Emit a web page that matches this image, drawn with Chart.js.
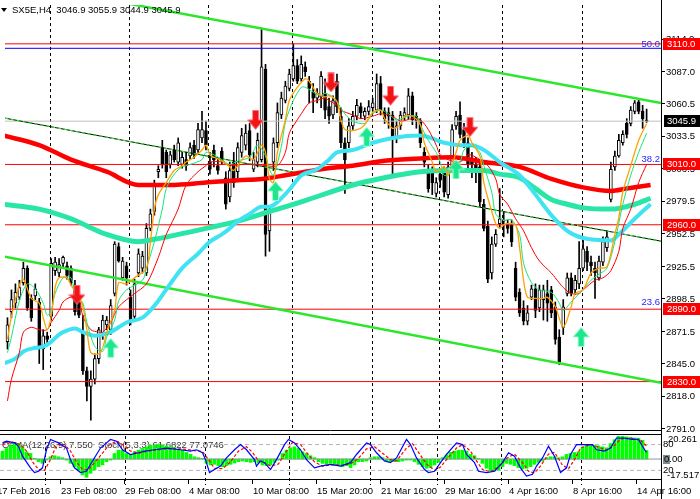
<!DOCTYPE html>
<html>
<head>
<meta charset="utf-8">
<script src="https://cdn.jsdelivr.net/npm/chart.js@4.4.0/dist/chart.umd.min.js"></script>
<style>
  body { margin: 0; background: #fff; overflow: hidden; }
  #wrap { position: relative; width: 700px; height: 499px; }
  canvas { position: absolute; left: 0; }
  #priceChart { top: 0; }
  #oscChart { top: 434px; }
</style>
</head>
<body>
<div id="wrap">
  <canvas id="priceChart" width="700" height="434"></canvas>
  <canvas id="oscChart" width="700" height="65"></canvas>
</div>
<script>
// SX5E H4 candles, 17 Feb - 14 Apr 2016
const opens = [2863,2888,2895,2900,2912,2924,2899,2901,2896,2857,2868,2884,2922,2920,2928,2926,2924,2910,2896,2871,
  2839,2826,2832,2849,2869,2877,2873,2903,2942,2916,2926,2900,2884,2920,2924,2920,2957,2971,3004,3024,
  3020,3010,3022,3012,3010,3014,3017,3026,3022,3032,3038,3012,3022,3009,3021,2999,2983,3012,3004,3020,
  3026,3038,3006,3012,3014,3089,2955,3012,3028,3051,3063,3073,3081,3092,3081,3091,3079,3070,3065,3066,
  3069,3058,3051,3079,3050,3028,3028,3042,3050,3058,3050,3054,3057,3055,3077,3054,3053,3051,3032,3042,
  3050,3051,3067,3050,3046,3020,3006,3004,2986,3002,3004,2985,3008,3042,3051,3039,3028,3013,3010,3008,
  2977,2959,2920,2944,2961,2963,2961,2960,2924,2904,2891,2880,2900,2907,2891,2898,2903,2906,2892,2867,
  2875,2903,2916,2906,2911,2924,2938,2929,2924,2916,2929,2941,2981,3008,3017,3028,3044,3044,3054,3062,
  3054,3046.9];
const highs = [2883,2906,2911,2914,2929,2926,2902,2911,2899,2873,2871,2932,2933,2932,2934,2929,2926,2914,2899,2885,
  2842,2839,2853,2875,2885,2884,2898,2946,2945,2933,2929,2906,2915,2940,2938,2961,2973,2997,3009,3030,
  3022,3021,3026,3032,3020,3020,3028,3030,3044,3054,3046,3020,3026,3016,3024,3004,3012,3020,3028,3040,
  3043,3044,3020,3036,3123,3093,2975,3032,3061,3070,3079,3089,3110,3097,3100,3095,3083,3077,3073,3087,
  3081,3065,3067,3085,3057,3032,3048,3054,3064,3061,3057,3063,3065,3085,3083,3057,3057,3054,3046,3054,
  3057,3073,3070,3053,3048,3024,3010,3008,2999,3005,3008,3012,3043,3054,3062,3044,3032,3020,3016,3012,
  2981,2963,2950,2956,2990,2971,2964,2964,2929,2907,2897,2893,2910,2911,2910,2910,2914,2909,2896,2873,
  2898,2920,2920,2918,2946,2948,2942,2934,2929,2934,2950,2955,3012,3021,3035,3038,3048,3058,3063,3064,
  3059,3055.9];
const lows = [2857,2883,2891,2898,2910,2889,2880,2898,2845,2840,2861,2881,2918,2917,2924,2915,2910,2885,2883,2836,
  2814,2798,2828,2845,2865,2873,2869,2901,2929,2914,2910,2877,2881,2917,2920,2918,2955,2968,2999,3007,
  2999,3007,3012,3009,3007,3005,3014,3015,3020,3028,3022,3002,3008,3002,3010,2973,2979,2991,2999,3016,
  3022,3013,3004,3008,3012,2934,2938,3005,3024,3048,3061,3071,3079,3077,3079,3083,3061,3053,3061,3057,
  3048,3044,3048,3053,3024,2986,3024,3039,3047,3048,3047,3051,3054,3053,3051,3044,3040,3002,3028,3039,
  3047,3048,3043,3040,3024,3008,2987,2985,2983,2991,2983,2982,3004,3039,3032,3024,3004,2999,2995,2975,
  2955,2912,2915,2942,2958,2950,2953,2942,2897,2884,2877,2877,2898,2883,2888,2881,2880,2883,2861,2844,
  2869,2901,2901,2902,2907,2922,2922,2918,2899,2914,2926,2938,2979,3005,3016,3026,3032,3042,3052,3052,
  3040,3044.9];
const closes = [2877,2898,2904,2908,2924,2891,2883,2907,2858,2868,2865,2928,2929,2927,2933,2918,2912,2888,2885,2839,
  2826,2832,2849,2873,2881,2881,2893,2944,2930,2930,2916,2880,2911,2936,2934,2957,2969,2993,3006,3010,
  3004,3018,3014,3028,3016,3009,3024,3018,3039,3039,3026,3006,3014,3005,3013,2977,3005,2995,3024,3034,
  3036,3018,3014,3030,3091,2952,2971,3028,3053,3065,3075,3085,3092,3079,3093,3087,3073,3065,3069,3083,
  3055,3050,3063,3058,3028,3014,3042,3050,3059,3053,3054,3058,3061,3077,3055,3048,3050,3032,3042,3051,
  3053,3067,3047,3046,3028,3012,2990,2995,2995,2997,2987,3008,3039,3050,3035,3028,3010,3010,3004,2979,
  2957,2915,2944,2952,2965,2964,2957,2946,2900,2887,2880,2887,2907,2889,2906,2906,2895,2887,2865,2846,
  2892,2916,2903,2914,2924,2940,2929,2926,2920,2930,2946,2950,3006,3017,3030,3035,3035,3055,3061,3054,
  3048,3045.9];

// moving averages: [bar index, price]
const fastMA = [[0,2865],[1,2884],[3,2910],[4,2915],[6,2899],[8,2895],[9,2883],[10,2873],[11,2884],[12,2908],[13,2916],[15,2916],
  [16,2910],[18,2900],[19,2892],[20,2873],[21,2854],[23,2853],[24,2858],[25,2871],[27,2889],[28,2912],[30,2911],[32,2916],
  [35,2924],[36,2946],[37,2973],[38,2985],[40,2995],[42,3005],[44,3009],[45,3012],[47,3016],[49,3022],[50,3026],[51,3018],
  [52,3016],[54,3013],[56,3008],[57,3005],[60,3017],[62,3014],[64,3026],[65,3020],[66,2998],[67,2995],[68,3020],[70,3047],
  [71,3063],[73,3074],[75,3081],[76,3079],[78,3069],[80,3066],[81,3067],[83,3062],[84,3047],[85,3039],[87,3038],[89,3040],
  [90,3043],[92,3053],[94,3055],[95,3048],[97,3040],[99,3043],[100,3050],[102,3050],[104,3043],[105,3028],[107,3012],[108,3004],
  [110,3008],[111,3001],[113,3020],[114,3030],[116,3034],[117,3028],[119,3017],[120,2995],[122,2971],[123,2961],[124,2957],
  [125,2960],[126,2961],[128,2960],[129,2941],[130,2914],[131,2900],[133,2899],[135,2899],[136,2900],[138,2892],[140,2875],
  [142,2892],[143,2903],[145,2906],[147,2920],[149,2924],[151,2925],[153,2952],[154,2966],[155,2987],[157,3009],[159,3030],
  [161,3044]];
const midMA = [[0,2854],[1,2867],[3,2897],[5,2911],[7,2907],[9,2895],[10,2885],[11,2889],[12,2903],[14,2916],[16,2916],[17,2903],
  [19,2895],[20,2879],[22,2859],[24,2855],[25,2867],[27,2881],[28,2897],[30,2906],[34,2914],[35,2924],[37,2946],[39,2973],
  [40,2990],[42,3002],[44,3008],[46,3010],[49,3014],[50,3020],[52,3018],[54,3014],[56,3010],[58,3013],[61,3016],[63,3026],
  [65,3017],[66,3006],[67,3001],[69,3025],[70,3045],[72,3063],[74,3074],[75,3074],[77,3070],[79,3067],[80,3069],[82,3066],
  [83,3062],[85,3052],[87,3046],[90,3044],[92,3052],[94,3055],[96,3052],[98,3047],[101,3050],[103,3050],[104,3043],[106,3030],
  [108,3020],[109,3012],[110,3001],[112,3004],[114,3012],[115,3022],[117,3025],[119,3020],[120,3009],[122,2987],[123,2969],
  [125,2964],[127,2964],[129,2952],[130,2928],[132,2912],[134,2906],[137,2904],[139,2895],[140,2889],[142,2896],[144,2903],
  [147,2914],[149,2919],[151,2924],[153,2946],[155,2977],[157,3001],[159,3020],[161,3036]];
const slowMA = [[0,2814],[1,2832],[3,2854],[4,2871],[6,2875],[8,2873],[10,2873],[11,2879],[13,2889],[14,2896],[16,2900],[18,2898],
  [19,2884],[21,2873],[23,2871],[24,2871],[26,2879],[28,2892],[32,2903],[35,2911],[38,2933],[40,2952],[43,2973],[45,2993],
  [48,3004],[50,3009],[51,3012],[54,3012],[56,3009],[59,3010],[63,3010],[65,3009],[68,3009],[70,3020],[71,3036],[73,3047],
  [74,3052],[76,3061],[78,3063],[80,3065],[81,3063],[83,3059],[84,3055],[87,3051],[89,3048],[92,3050],[94,3052],[97,3050],
  [99,3046],[102,3048],[104,3047],[106,3039],[108,3026],[109,3018],[111,3014],[114,3012],[116,3018],[118,3016],[121,3009],
  [123,2998],[124,2985],[126,2977],[128,2965],[130,2955],[132,2941],[134,2930],[137,2920],[138,2916],[140,2908],[142,2903],
  [144,2903],[145,2906],[148,2914],[150,2916],[152,2922],[154,2938],[155,2957],[157,2973],[159,2995],[161,3010]];
const redMA = [[-1,3034],[8,3026],[16,3014],[25,3004],[33,2993],[41,2993],[50,2995],[58,2997],[64,2998],[70,3001],[79,3006],
  [87,3009],[95,3013],[104,3015],[112,3016],[120,3012],[129,3008],[137,2998],[145,2991],[152,2988],[156,2990],[162,2993]];
const greenMA = [[-1,2977],[8,2973],[16,2965],[25,2952],[33,2946],[37,2948],[50,2957],[58,2963],[66,2971],[74,2979],[87,2993],
  [95,2999],[104,3004],[112,3005],[120,3005],[124,3002],[129,2999],[133,2990],[137,2981],[141,2977],[145,2974],[152,2973],
  [158,2977],[162,2982]];
const cyanMA = [[-1,2845],[2,2849],[4,2855],[7,2858],[9,2859],[11,2863],[13,2869],[14,2871],[17,2874],[19,2871],[22,2868],
  [24,2869],[26,2871],[28,2875],[30,2879],[34,2883],[36,2889],[38,2897],[41,2911],[44,2924],[48,2936],[51,2946],[54,2952],
  [56,2957],[58,2963],[61,2969],[64,2975],[66,2975],[69,2982],[71,2989],[74,3001],[78,3006],[81,3014],[83,3020],[87,3022],
  [92,3028],[97,3032],[104,3034],[110,3028],[114,3026],[117,3026],[120,3022],[124,3012],[129,3001],[133,2985],[137,2968],
  [141,2955],[145,2949],[152,2947],[154,2952],[158,2965],[162,2977]];

// trend lines and levels
const upperChannel = [[30,3143.6],[164.625,3061]];
const lowerChannel = [[-0.625,2933.6],[164.625,2829]];
const midChannel = [[-0.625,3048.4],[164.625,2946.4]];
const redLevels = [3110, 3010, 2960, 2890, 2830];
const fibValues = [3106.3, 3010.5, 2892];
const fibNames = ['50.0', '38.2', '23.6'];

// signal arrows: [bar index, price]
const sellArrows = [[17.5,2902],[62.5,3047],[81.5,3078],[96.5,3067],[116.5,3041]];
const buyArrows = [[26,2858],[67.5,2988],[90.5,3033],[113,3006],[144.5,2867]];

// OsMA histogram, one value per bar
const osma = [7.0,9.3,12.2,13.6,13.6,10.7,6.4,4.9,0.6,-2.3,-3.8,-0.9,2.0,2.9,2.0,1.2,-0.9,-3.8,-6.7,-9.6,
  -13.9,-16.0,-12.5,-9.6,-6.7,-5.2,-2.3,-0.9,4.9,7.8,7.8,4.9,4.1,6.4,7.8,9.3,10.7,12.2,12.2,12.8,
  12.2,11.6,10.7,9.9,8.7,7.8,5.8,4.1,2.0,1.2,0.6,-3.8,-5.2,-4.6,-5.8,-6.7,-5.8,-4.6,-3.5,-2.3,
  -1.7,-2.3,-2.9,-2.3,-3.5,-5.2,-5.8,-5.2,-2.9,-0.9,4.9,7.8,9.9,10.7,9.3,6.4,4.9,2.9,1.2,-2.3,
  -3.8,-4.6,-3.8,-5.2,-5.8,-6.7,-5.8,-7.5,-5.2,-2.3,-2.3,-1.7,1.2,2.0,2.0,1.2,-1.7,-2.3,-2.3,-2.3,
  -1.7,-0.9,-0.9,-2.3,-4.6,-6.7,-8.1,-7.5,-5.2,-2.9,1.2,3.5,5.8,7.0,7.8,7.8,7.0,4.1,2.9,0.6,
  -3.8,-8.1,-10.4,-10.4,-9.6,-6.7,-3.8,-4.6,-5.8,-7.5,-8.7,-8.1,-6.7,-4.6,-2.9,-1.7,1.2,2.0,2.0,1.2,
  2.0,4.1,4.9,5.8,6.4,10.7,12.2,12.8,12.2,11.6,10.7,9.9,13.6,17.0,20.0,20.261,19.5,19.0,18.6,18.3,
  16.5,7.55];
const stochMain = [[0,84],[1,88],[3,84],[4,76],[5,53],[7,26],[8,15],[9,18],[10,26],[11,68],[12,92],[14,84],[16,72],[17,45],
  [18,26],[19.5,15],[21,18],[22,34],[23.5,57],[24.5,72],[26,84],[27,92],[28.5,88],[30,68],[32,57],[34,61],[35.5,65],[38,68],
  [41,72],[44.5,68],[47,65],[48.5,68],[50,61],[50.75,45],[51.75,15],[53,22],[54.5,30],[56,49],[58,68],[59.5,80],[61,68],
  [63,45],[63.5,30],[64.5,42],[65.5,38],[67,22],[68.5,45],[70.5,80],[71.5,92],[73,84],[74.5,68],[76,45],[78,26],[79.5,30],
  [82,34],[84.5,30],[87,38],[88.5,57],[91,84],[92,80],[93.5,61],[95.5,42],[97,38],[98.5,49],[101,92],[102,80],[103.5,49],
  [105.5,22],[106.5,15],[108,18],[109.5,38],[111,57],[113.5,84],[115,80],[116,57],[118,38],[119,18],[121,15],[123,18],
  [125,38],[126.5,61],[128,53],[129.5,26],[131,7],[132.5,11],[133.5,30],[135,49],[136.5,76],[138,53],[139.5,15],[141,26],
  [142,57],[143.5,80],[145.5,80],[147.5,80],[148.5,68],[150.5,65],[152,72],[153.5,95],[155.5,95],[157.5,92],[159,92],
  [160,76],[161,61.7]];
const stochSignal = [[0,80],[2.5,86],[4.5,80],[6,65],[7.5,40],[9,22],[10.5,20],[12,45],[13.5,80],[15.5,80],[17,65],[18.5,40],
  [20,22],[21.5,22],[23,38],[25,60],[26.5,78],[28.5,88],[30,80],[32,65],[34,60],[37,66],[41,70],[45,70],[48,66],[50,64],
  [51.5,45],[53,25],[55,24],[57,40],[59,65],[61,75],[62.5,62],[64,42],[65.5,38],[67,30],[69,35],[71,65],[72.5,85],[74.5,80],
  [76,62],[78,40],[80,30],[82.5,33],[85,32],[87,35],[89,48],[91,70],[93,75],[95,60],[97,45],[98.5,42],[101,72],[102.5,82],
  [104,62],[106,35],[108,20],[109.5,28],[111,45],[113.5,72],[115,80],[117,65],[118.5,42],[120,22],[122,17],[124,28],
  [126,48],[128,58],[130,38],[131.5,18],[133,14],[134.5,30],[136.5,58],[138,62],[140,32],[141.5,24],[143,45],[144.5,72],
  [147,80],[149,74],[151,67],[153,78],[154.5,93],[157,95],[159.5,90],[161,77.1]];

// axes
const yTicks = [3114.0,3087.0,3060.5,3033.5,3006.5,2979.5,2952.5,2925.5,2898.5,2871.5,2845.0,2818.0,2791.0];
const gridIdx = [10.625,30.625,50.625,71.625,91.875,108.625,124.625,144.625];
const timeLabelIdx = [-1.625,14.375,30.375,46.375,62.375,78.375,94.375,110.375,126.375,142.375,158.375];
const timeLabels = ['17 Feb 2016','23 Feb 08:00','29 Feb 08:00','4 Mar 08:00','10 Mar 08:00','15 Mar 20:00',
  '21 Mar 16:00','29 Mar 16:00','4 Apr 16:00','8 Apr 16:00','14 Apr 16:00'];

const xMin = -0.625, xMax = 164.625;
const yMin = 2790.7, yMax = 3142.2;
const FONT = '9.5px "Liberation Sans", Arial, sans-serif';

function pts(pairs) {
  return pairs.map(p => ({ x: p[0], y: p[1] }));
}
function hline(v) {
  return [{ x: xMin, y: v }, { x: xMax, y: v }];
}
function lineSet(data, color, width, order, extra) {
  return Object.assign({
    type: 'line', data: data, borderColor: color, borderWidth: width,
    pointRadius: 0, fill: false, order: order, tension: 0
  }, extra || {});
}
function arrowImage(up, fill, edge) {
  const c = document.createElement('canvas');
  c.width = 17; c.height = 20;
  const g = c.getContext('2d');
  g.beginPath();
  if (up) {
    g.moveTo(8.5, 0.5); g.lineTo(16.5, 10); g.lineTo(11.5, 10); g.lineTo(11.5, 19.5);
    g.lineTo(5.5, 19.5); g.lineTo(5.5, 10); g.lineTo(0.5, 10);
  } else {
    g.moveTo(5.5, 0.5); g.lineTo(11.5, 0.5); g.lineTo(11.5, 10); g.lineTo(16.5, 10);
    g.lineTo(8.5, 19.5); g.lineTo(0.5, 10); g.lineTo(5.5, 10);
  }
  g.closePath();
  g.fillStyle = fill; g.fill();
  g.strokeStyle = edge; g.lineWidth = 1; g.stroke();
  return c;
}

// time axis is hidden; labels and separators are placed through it by plugins
function timeScale() {
  return { type: 'linear', min: xMin, max: xMax, offset: false, display: false };
}

// dashed period separators
const periodGrid = {
  id: 'periodGrid',
  beforeDatasetsDraw(chart) {
    const { ctx, chartArea, scales: { x } } = chart;
    ctx.save();
    ctx.strokeStyle = '#000';
    ctx.lineWidth = 1;
    ctx.setLineDash([3, 3]);
    ctx.beginPath();
    gridIdx.forEach(v => {
      const px = Math.round(x.getPixelForValue(v)) + 0.5;
      ctx.moveTo(px, chartArea.top);
      ctx.lineTo(px, chart.canvas.id === 'oscChart' ? chartArea.bottom + 6 : chartArea.bottom);
    });
    ctx.stroke();
    ctx.restore();
  }
};

const candleIdx = closes.map((c, i) => i);
const bullish = i => closes[i] >= opens[i];

const priceDecor = {
  id: 'priceDecor',
  afterDraw(chart) {
    const { ctx, chartArea, scales: { y } } = chart;
    const right = chartArea.right;
    ctx.save();
    ctx.font = FONT;
    ctx.textBaseline = 'middle';
    ctx.textAlign = 'left';
    ctx.fillStyle = '#000';
    yTicks.forEach(v => ctx.fillText(v.toFixed(1), right + 5, y.getPixelForValue(v) + 0.5));

    ctx.textAlign = 'right';
    ctx.textBaseline = 'alphabetic';
    ctx.fillStyle = '#2424ff';
    fibValues.forEach((v, i) => ctx.fillText(fibNames[i], right - 1, y.getPixelForValue(v) - 1.5));

    ctx.textAlign = 'left';
    ctx.textBaseline = 'middle';
    redLevels.forEach(v => {
      const py = Math.round(y.getPixelForValue(v));
      ctx.fillStyle = '#ff0000';
      ctx.fillRect(right + 2, py - 6, 37, 12);
      ctx.fillStyle = '#fff';
      ctx.fillText(v.toFixed(1), right + 6, py + 0.5);
    });
    const last = closes[closes.length - 1];
    const cy = Math.round(y.getPixelForValue(last));
    ctx.fillStyle = '#000';
    ctx.fillRect(right + 3, cy - 6, 36, 12);
    ctx.fillStyle = '#fff';
    ctx.fillText(last.toFixed(1), right + 6, cy + 0.5);

    // header
    const n = closes.length - 1;
    ctx.fillStyle = '#000';
    ctx.beginPath();
    ctx.moveTo(1, 8); ctx.lineTo(7, 8); ctx.lineTo(4, 12); ctx.closePath(); ctx.fill();
    ctx.textBaseline = 'alphabetic';
    ctx.fillText('SX5E,H4  ' + [opens[n], highs[n], lows[n], closes[n]].map(v => v.toFixed(1)).join(' '), 12, 13);

    // panel separator
    ctx.strokeStyle = '#000';
    ctx.lineWidth = 1;
    ctx.beginPath();
    ctx.moveTo(0, chartArea.bottom + 1.5); ctx.lineTo(right, chartArea.bottom + 1.5);
    ctx.moveTo(right + 0.5, 0); ctx.lineTo(right + 0.5, chart.height);
    ctx.stroke();
    ctx.restore();
  }
};

new Chart(document.getElementById('priceChart'), {
  type: 'bar',
  data: {
    datasets: [
      { type: 'bar', data: candleIdx.map(i => ({ x: i, y: [lows[i], highs[i]] })), backgroundColor: '#000',
        barThickness: 1, grouped: false, order: 20 },
      { type: 'bar', data: candleIdx.map(i => ({ x: i, y: [opens[i], closes[i]] })),
        backgroundColor: c => bullish(c.dataIndex) ? '#fff' : '#000', borderColor: '#000', borderWidth: 1,
        borderSkipped: false, barThickness: 3, grouped: false, order: 19 },
      ...redLevels.map(v => lineSet(hline(v), '#ff0000', 1, 15)),
      lineSet(hline(fibValues[0]), '#0000ff', 1, 15),
      lineSet(hline(closes[closes.length - 1]), '#c0c0c0', 1, 16),
      lineSet(pts(upperChannel), '#2be82b', 2.5, 14),
      lineSet(pts(lowerChannel), '#2be82b', 2.5, 14),
      lineSet(pts(midChannel), '#000', 1, 14),
      lineSet(pts(midChannel), '#2be82b', 1.2, 13, { borderDash: [3, 3] }),
      lineSet(pts(redMA), '#ff0000', 4.5, 12, { tension: 0.4, cubicInterpolationMode: 'monotone' }),
      lineSet(pts(greenMA), '#2ae6a6', 5, 11, { tension: 0.4, cubicInterpolationMode: 'monotone' }),
      lineSet(pts(cyanMA), '#3fe3f2', 4, 10, { tension: 0.4, cubicInterpolationMode: 'monotone' }),
      lineSet(pts(slowMA), '#ff0000', 1, 9, { tension: 0.3 }),
      lineSet(pts(midMA), '#14e678', 1, 8, { tension: 0.3 }),
      lineSet(pts(fastMA), '#ffa000', 1.3, 7, { tension: 0.3 }),
      lineSet(pts(sellArrows), '#ff0000', 0, 2, { showLine: false, pointRadius: 5,
        pointStyle: arrowImage(false, '#f21414', '#ff7a8c') }),
      lineSet(pts(buyArrows), '#1be890', 0, 2, { showLine: false, pointRadius: 5,
        pointStyle: arrowImage(true, '#1ee68e', '#9dffd2') })
    ]
  },
  options: {
    responsive: false,
    animation: false,
    events: [],
    layout: { padding: { left: 0, right: 0, top: 0, bottom: 3 } },
    plugins: { legend: { display: false }, tooltip: { enabled: false } },
    scales: {
      x: timeScale(),
      y: {
        type: 'linear', position: 'right', min: yMin, max: yMax,
        afterBuildTicks: s => { s.ticks = yTicks.map(v => ({ value: v })); },
        afterFit: s => { s.width = 39; },
        ticks: { display: false },
        grid: { drawOnChartArea: false, drawTicks: true, tickLength: 4, color: '#000' },
        border: { display: true, color: '#000' }
      }
    }
  },
  plugins: [periodGrid, priceDecor]
});

const oscDecor = {
  id: 'oscDecor',
  beforeDatasetsDraw(chart) {
    const { ctx } = chart;
    ctx.save();
    ctx.font = FONT;
    ctx.fillStyle = '#333';
    ctx.textBaseline = 'alphabetic';
    ctx.fillText('OsMA(12,26,9) 7.550  Stoch(5,3,3) 61.6822 77.0746', 2, 14);
    ctx.restore();
  },
  afterDraw(chart) {
    const { ctx, chartArea, scales: { x, y, st } } = chart;
    const right = chartArea.right;
    ctx.save();
    ctx.strokeStyle = '#000';
    ctx.lineWidth = 1;
    ctx.beginPath();
    ctx.moveTo(0, 0.5); ctx.lineTo(right, 0.5);
    ctx.moveTo(0, chartArea.bottom + 0.5); ctx.lineTo(right, chartArea.bottom + 0.5);
    ctx.moveTo(right + 0.5, 0); ctx.lineTo(right + 0.5, chart.height);
    timeLabelIdx.forEach(v => {
      const px = Math.round(x.getPixelForValue(v)) + 0.5;
      ctx.moveTo(px, chartArea.bottom); ctx.lineTo(px, chartArea.bottom + 5);
    });
    ctx.stroke();

    ctx.font = FONT;
    ctx.fillStyle = '#000';
    ctx.textBaseline = 'alphabetic';
    ctx.textAlign = 'left';
    timeLabelIdx.forEach((v, i) => ctx.fillText(timeLabels[i], x.getPixelForValue(v) + 1, 60));

    ctx.textBaseline = 'middle';
    ctx.fillText('20.261', right + 7, y.getPixelForValue(20.261) + 3);
    ctx.fillText('80', right + 2, st.getPixelForValue(80));
    ctx.fillText('-17.517', right + 6, y.getPixelForValue(-17.517) - 4);
    ctx.fillText('20', right + 2, st.getPixelForValue(20));
    const zy = Math.round(y.getPixelForValue(0));
    ctx.fillStyle = '#7e8a90';
    ctx.fillRect(right + 2, zy - 4, 7, 9);
    ctx.fillStyle = '#000';
    ctx.fillText('0.00', right + 3, zy + 0.5);
    ctx.restore();
  }
};

new Chart(document.getElementById('oscChart'), {
  type: 'bar',
  data: {
    datasets: [
      { type: 'bar', data: osma.map((v, i) => ({ x: i, y: v })), backgroundColor: '#00ff00',
        barThickness: 3, grouped: false, yAxisID: 'y', order: 10 },
      lineSet(hline(80), '#b4b4b4', 1, 12, { yAxisID: 'st', borderDash: [4, 3] }),
      lineSet(hline(20), '#b4b4b4', 1, 12, { yAxisID: 'st', borderDash: [4, 3] }),
      lineSet(hline(0), '#8a969c', 1, 9, { yAxisID: 'y' }),
      lineSet(pts(stochSignal), '#ff0000', 1.2, 6, { yAxisID: 'st', borderDash: [3, 2] }),
      lineSet(pts(stochMain), '#0000ff', 1.2, 5, { yAxisID: 'st' })
    ]
  },
  options: {
    responsive: false,
    animation: false,
    events: [],
    layout: { padding: { left: 0, right: 0, top: 2, bottom: 20 } },
    plugins: { legend: { display: false }, tooltip: { enabled: false } },
    scales: {
      x: timeScale(),
      y: {
        type: 'linear', position: 'right', min: -17.517, max: 20.261,
        afterFit: s => { s.width = 39; },
        ticks: { display: false },
        grid: { display: false },
        border: { display: true, color: '#000' }
      },
      st: { type: 'linear', position: 'right', min: 0, max: 100, display: false }
    }
  },
  plugins: [periodGrid, oscDecor]
});
</script>
</body>
</html>
